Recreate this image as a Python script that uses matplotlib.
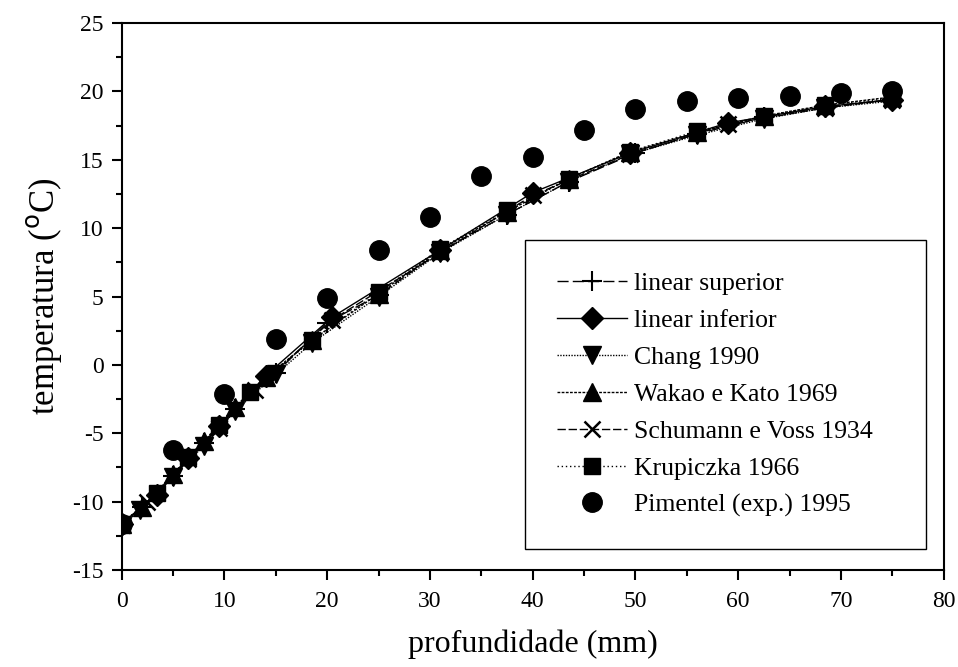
import matplotlib
matplotlib.use("Agg")
import matplotlib.pyplot as plt
from matplotlib.ticker import MultipleLocator

plt.rcParams['font.family'] = ['Liberation Serif', 'DejaVu Serif']
plt.rcParams['axes.unicode_minus'] = False

# experimental data (Pimentel 1995)
prof_exp = [0, 5, 10, 15, 20, 25, 30, 35, 40, 45, 50, 55, 60, 65, 70, 75]
temp_exp = [-11.6, -6.2, -2.1, 1.9, 4.9, 8.4, 10.8, 13.8, 15.2, 17.2, 18.7, 19.3, 19.5, 19.7, 19.9, 20.0]

# model curves
prof_sup = [0, 2, 5, 8, 11, 15, 20, 25, 31, 37.5, 43.5, 50, 56, 62.5, 68.5, 75]
temp_sup = [-11.7, -10.4, -8.1, -5.7, -3.2, -0.6, 3.1, 5.1, 8.3, 11.0, 13.4, 15.5, 16.9, 18.1, 18.9, 19.4]

prof_inf = [0, 3.4, 6.5, 9.5, 14, 20.5, 31, 40, 49.5, 59, 68.5, 75]
temp_inf = [-11.6, -9.5, -6.8, -4.5, -0.8, 3.5, 8.4, 12.6, 15.5, 17.7, 18.9, 19.4]

prof_chang = [0, 1.8, 5, 8, 11, 15, 18.5, 25, 31, 37.5, 43.5, 49.5, 56, 62.5, 68.5, 75]
temp_chang = [-11.8, -10.6, -8.2, -5.9, -3.4, -0.7, 1.6, 5.0, 8.2, 11.0, 13.4, 15.4, 16.8, 18.0, 18.8, 19.3]

prof_wakao = [0, 2, 5, 8, 11, 14, 18.5, 25, 31, 37.5, 43.5, 49.5, 56, 62.5, 68.5, 75]
temp_wakao = [-11.6, -10.4, -8.0, -5.6, -3.1, -0.9, 1.8, 5.2, 8.4, 11.2, 13.6, 15.6, 17.0, 18.2, 19.0, 19.6]

prof_schu = [0, 2.5, 6.5, 9.5, 13, 20.5, 31, 40, 49.5, 59, 68.5, 75]
temp_schu = [-11.7, -10.0, -6.9, -4.6, -1.8, 3.3, 8.2, 12.4, 15.4, 17.6, 18.8, 19.4]

prof_krup = [0, 3.4, 6.5, 9.5, 12.5, 18.5, 25, 31, 37.5, 43.5, 49.5, 56, 62.5, 68.5, 75]
temp_krup = [-11.6, -9.4, -6.7, -4.4, -2.0, 1.8, 5.3, 8.5, 11.3, 13.6, 15.6, 17.1, 18.2, 19.0, 19.5]

fig = plt.figure(figsize=(9.58, 6.67), dpi=100)
ax = fig.add_axes([0.127, 0.1454, 0.858, 0.82])

k = 'black'
ax.plot(prof_sup, temp_sup, ls=(0, (8, 3)), lw=1, color=k, marker='+', ms=14, mew=1.5,
        label='linear superior')
ax.plot(prof_inf, temp_inf, ls='-', lw=1, color=k, marker='D', ms=11,
        label='linear inferior')
ax.plot(prof_chang, temp_chang, ls=(0, (1, 1)), lw=1, color=k, marker='v', ms=13,
        label='Chang 1990')
ax.plot(prof_wakao, temp_wakao, ls=(0, (2, 1)), lw=1, color=k, marker='^', ms=13,
        label='Wakao e Kato 1969')
ax.plot(prof_schu, temp_schu, ls=(0, (6, 2)), lw=1, color=k, marker='x', ms=12, mew=1.8,
        label='Schumann e Voss 1934')
ax.plot(prof_krup, temp_krup, ls=(0, (1, 2)), lw=1, color=k, marker='s', ms=11,
        label='Krupiczka 1966')
ax.plot(prof_exp, temp_exp, ls='none', color=k, marker='o', ms=14,
        label='Pimentel (exp.) 1995')

ax.set_xlim(0, 80)
ax.set_ylim(-15, 25)
ax.xaxis.set_major_locator(MultipleLocator(10))
ax.xaxis.set_minor_locator(MultipleLocator(5))
ax.yaxis.set_major_locator(MultipleLocator(5))
ax.yaxis.set_minor_locator(MultipleLocator(2.5))
ax.tick_params(which='both', direction='out', top=False, right=False, width=1.5, labelsize=17)
ax.tick_params(which='major', length=7)
ax.tick_params(axis='y', which='major', pad=6)
ax.tick_params(axis='x', which='major', pad=8)
ax.tick_params(which='minor', length=4)
for s in ax.spines.values():
    s.set_linewidth(1.5)

ax.set_xlabel('profundidade (mm)', fontsize=23, labelpad=13)
ax.set_ylabel('temperatura ($^{\\rm o}$C)', fontsize=25, labelpad=6)

leg = ax.legend(loc='upper left', bbox_to_anchor=(0.4903, 0.603, 0.4878, 0.0),
                mode='expand', borderaxespad=0, fontsize=18.5, handlelength=2.75,
                labelspacing=0.54, borderpad=1.25, handletextpad=0.25,
                fancybox=False, framealpha=1, edgecolor='black')
leg.get_frame().set_linewidth(1.0)

fig.savefig('out.png', dpi=100)
